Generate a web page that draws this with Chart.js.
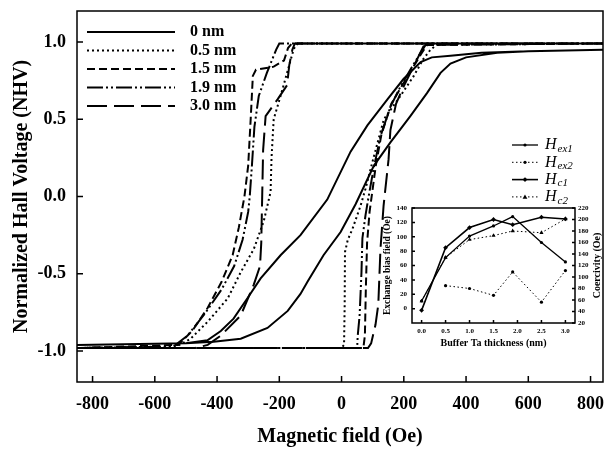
<!DOCTYPE html>
<html>
<head>
<meta charset="utf-8">
<script src="https://cdn.jsdelivr.net/npm/chart.js@4.4.0/dist/chart.umd.min.js"></script>
<style>
  html, body { margin: 0; padding: 0; background: #fff; }
  #wrap { position: relative; width: 605px; height: 449px; }
  #main { position: absolute; left: 0; top: 0; }
  #inset { position: absolute; left: 375px; top: 136px; }
</style>
</head>
<body>
<div id="wrap">
  <canvas id="main" width="605" height="449"></canvas>
  <canvas id="inset" width="230" height="218"></canvas>
</div>
<script>
// Hysteresis loops (field in Oe -> normalized Hall voltage)
const loopLabels = ['0 nm', '0.5 nm', '1.5 nm', '1.9 nm', '3.0 nm'];

const field0 = [840, 600, 450, 350, 290, 254, 199, 148, 83, 29, -46, -132, -196, -260, -303, -347, -388, -431, -500, -850,
                -850, -500, -411, -324, -238, -173, -132, -109, -58, -3, 45, 104, 157, 221, 275, 318, 350, 400, 500, 600, 840];
const nhv0 = [0.95, 0.94, 0.93, 0.91, 0.9, 0.87, 0.76, 0.63, 0.46, 0.29, -0.02, -0.25, -0.38, -0.53, -0.66, -0.79, -0.87, -0.93, -0.95, -0.96,
              -0.96, -0.95, -0.94, -0.92, -0.85, -0.74, -0.63, -0.55, -0.38, -0.23, -0.05, 0.2, 0.35, 0.52, 0.67, 0.8, 0.86, 0.9, 0.93, 0.94, 0.95];

const field05 = [840, 300, -140, -150, -157, -175, -196, -218, -225, -228, -250, -282, -324, -366, -430, -485, -530, -850,
                 -850, -200, 0, 8, 10, 11, 20, 35, 61, 77, 100, 136, 189, 232, 263, 286, 305, 330, 840];
const nhv05 = [0.99, 0.99, 0.99, 0.97, 0.93, 0.8, 0.65, 0.5, 0.25, 0.03, -0.16, -0.34, -0.49, -0.66, -0.81, -0.92, -0.97, -0.98,
               -0.98, -0.98, -0.98, -0.96, -0.7, -0.36, -0.28, -0.21, -0.06, 0.05, 0.23, 0.5, 0.65, 0.78, 0.89, 0.95, 0.98, 0.99, 0.99];

const field15 = [840, -160, -172, -185, -218, -275, -285, -292, -300, -312, -330, -350, -385, -430, -480, -525, -850,
                 -850, 70, 75, 78, 82, 90, 100, 110, 128, 160, 195, 225, 255, 275, 840];
const nhv15 = [0.99, 0.99, 0.96, 0.88, 0.84, 0.82, 0.78, 0.5, 0.2, 0.0, -0.2, -0.38, -0.55, -0.72, -0.87, -0.96, -0.98,
               -0.98, -0.98, -0.9, -0.6, -0.3, -0.1, 0.05, 0.2, 0.4, 0.6, 0.72, 0.82, 0.92, 0.98, 0.99];

const field19 = [840, -200, -210, -240, -266, -280, -288, -295, -300, -318, -345, -385, -440, -495, -540, -850,
                 -850, 50, 52, 58, 64, 67, 77, 87, 103, 125, 157, 189, 221, 254, 270, 840];
const nhv19 = [0.99, 0.99, 0.95, 0.8, 0.65, 0.45, 0.2, 0.0, -0.1, -0.28, -0.45, -0.6, -0.76, -0.9, -0.97, -0.98,
               -0.98, -0.98, -0.9, -0.77, -0.49, -0.27, -0.12, 0.0, 0.18, 0.39, 0.58, 0.71, 0.82, 0.93, 0.98, 0.99];

const field30 = [840, -150, -158, -168, -175, -205, -244, -252, -255, -258, -262, -282, -324, -388, -430, -470, -850,
                 -850, 85, 95, 109, 118, 125, 135, 151, 157, 175, 199, 231, 263, 280, 840];
const nhv30 = [0.99, 0.99, 0.95, 0.85, 0.72, 0.63, 0.52, 0.3, 0.0, -0.3, -0.45, -0.57, -0.77, -0.9, -0.96, -0.98, -0.98,
               -0.98, -0.98, -0.95, -0.83, -0.7, -0.34, -0.06, 0.24, 0.43, 0.6, 0.71, 0.84, 0.97, 0.99, 0.99];

const fieldTicks = [-800, -600, -400, -200, 0, 200, 400, 600, 800];
const nhvTicks = [-1.0, -0.5, 0.0, 0.5, 1.0];

// Inset: buffer Ta thickness dependence
const thickness = [0.0, 0.5, 1.0, 1.5, 1.9, 2.5, 3.0];
const hex1 = [10.6, 71, 101, 115, 128, 92, 65];
const hex2 = [null, 32, 28, 18.5, 51, 9, 53];
const hc1 = [42, 151, 186, 200, 191, 204, 201];
const hc2 = [58, 134, 165, 172, 180, 177, 201];
const insetLabels = ['Hex1', 'Hex2', 'Hc1', 'Hc2'];

const thicknessTicks = [0, 0.5, 1.0, 1.5, 2.0, 2.5, 3.0];
const biasTicks = [0, 20, 40, 60, 80, 100, 120, 140];
const coerTicks = [20, 40, 60, 80, 100, 120, 140, 160, 180, 200, 220];

const SERIF = '"Liberation Serif", "Times New Roman", serif';
const loopDashes = [[], [2, 3], [8, 4], [16, 3, 2, 3, 2, 3], [20, 7]];

function zip(xs, ys) {
  const out = [];
  xs.forEach((x, i) => { if (ys[i] !== null) out.push({ x: x, y: ys[i] }); });
  return out;
}

// no extra label padding: the chart area is set by layout padding + fixed axis sizes
function noPad(s) {
  s.paddingTop = 0; s.paddingBottom = 0; s.paddingLeft = 0; s.paddingRight = 0;
}

// frame + inward tick marks
const frameTicks = {
  id: 'frameTicks',
  afterDraw(chart, args, opts) {
    const { ctx, chartArea: a, scales } = chart;
    ctx.save();
    ctx.strokeStyle = '#000';
    ctx.lineWidth = opts.width;
    ctx.setLineDash([]);
    ctx.strokeRect(a.left, a.top, a.right - a.left, a.bottom - a.top);
    ctx.beginPath();
    scales.x.ticks.forEach(t => {
      const px = scales.x.getPixelForValue(t.value);
      ctx.moveTo(px, a.bottom);
      ctx.lineTo(px, a.bottom - opts.len);
    });
    Object.values(scales).forEach(s => {
      if (s.axis !== 'y') return;
      s.ticks.forEach(t => {
        const py = s.getPixelForValue(t.value);
        if (s.position === 'left') { ctx.moveTo(a.left, py); ctx.lineTo(a.left + opts.len, py); }
        else { ctx.moveTo(a.right, py); ctx.lineTo(a.right - opts.len, py); }
      });
    });
    ctx.stroke();
    ctx.restore();
  }
};

const mainLegend = {
  id: 'mainLegend',
  afterDraw(chart) {
    const ctx = chart.ctx;
    ctx.save();
    ctx.font = 'bold 16px ' + SERIF;
    ctx.fillStyle = '#000';
    ctx.strokeStyle = '#000';
    ctx.textBaseline = 'middle';
    chart.data.datasets.forEach((ds, i) => {
      const y = 32 + i * 18.5;
      ctx.setLineDash(ds.borderDash);
      ctx.lineWidth = 2;
      ctx.beginPath();
      ctx.moveTo(87, y);
      ctx.lineTo(175, y);
      ctx.stroke();
      ctx.setLineDash([]);
      ctx.fillText(ds.label, 190, y);
    });
    ctx.restore();
  }
};

const mainChart = new Chart(document.getElementById('main'), {
  type: 'scatter',
  data: {
    datasets: [
      [field0, nhv0], [field05, nhv05], [field15, nhv15], [field19, nhv19], [field30, nhv30]
    ].map((p, i) => ({
      label: loopLabels[i],
      data: zip(p[0], p[1]),
      showLine: true,
      borderColor: '#000',
      borderWidth: 2,
      borderDash: loopDashes[i],
      pointRadius: 0,
      tension: 0
    }))
  },
  options: {
    responsive: false,
    animation: false,
    layout: { padding: { top: 11, right: 2, left: 0, bottom: 0 } },
    plugins: {
      legend: { display: false },
      tooltip: { enabled: false },
      frameTicks: { width: 1.5, len: 6 }
    },
    scales: {
      x: {
        type: 'linear', min: -850, max: 840,
        afterBuildTicks: s => { s.ticks = fieldTicks.map(v => ({ value: v })); },
        grid: { display: false, drawTicks: false },
        border: { display: false },
        ticks: { color: '#000', padding: 12, autoSkip: false, maxRotation: 0,
                 font: { family: SERIF, size: 18, weight: 'bold' } },
        title: { display: true, text: 'Magnetic field (Oe)', color: '#000',
                 font: { family: SERIF, size: 20, weight: 'bold', lineHeight: 1 },
                 padding: { top: 0, bottom: 2 } },
        afterFit: s => { s.height = 67; noPad(s); }
      },
      y: {
        type: 'linear', min: -1.2, max: 1.2,
        afterBuildTicks: s => { s.ticks = nhvTicks.map(v => ({ value: v })); },
        grid: { display: false, drawTicks: false },
        border: { display: false },
        ticks: { color: '#000', padding: 11, callback: v => v.toFixed(1),
                 font: { family: SERIF, size: 18, weight: 'bold' } },
        title: { display: true, text: 'Normalized Hall Voltage (NHV)', color: '#000',
                 font: { family: SERIF, size: 20, weight: 'bold', lineHeight: 1 },
                 padding: { top: 12, bottom: 0 } },
        afterFit: s => { s.width = 77; noPad(s); }
      }
    }
  },
  plugins: [frameTicks, mainLegend]
});

// inset legend with subscripted labels, and the right-hand title
const insetDecor = {
  id: 'insetDecor',
  afterDraw(chart) {
    const ctx = chart.ctx;
    ctx.save();
    ctx.fillStyle = '#000';
    ctx.strokeStyle = '#000';
    chart.data.datasets.forEach((ds, i) => {
      const y = 9 + i * 17.3;
      ctx.setLineDash(ds.borderDash || []);
      ctx.lineWidth = ds.borderWidth;
      ctx.beginPath();
      ctx.moveTo(137, y);
      ctx.lineTo(163, y);
      ctx.stroke();
      ctx.setLineDash([]);
      drawMarker(ctx, ds.pointStyle, 150, y, ds.pointRadius);
      ctx.textBaseline = 'middle';
      ctx.font = 'italic 16px ' + SERIF;
      ctx.fillText(ds.label.charAt(0), 170, y);
      const w = ctx.measureText(ds.label.charAt(0)).width;
      ctx.font = 'italic 11px ' + SERIF;
      ctx.fillText(ds.label.slice(1), 170 + w + 1, y + 4);
    });
    const s = chart.scales.y2;
    const a = chart.chartArea;
    ctx.translate(s.right - 8, (a.top + a.bottom) / 2);
    ctx.rotate(-Math.PI / 2);
    ctx.textAlign = 'center';
    ctx.textBaseline = 'middle';
    ctx.font = 'bold 10px ' + SERIF;
    ctx.fillText('Coercivity (Oe)', 0, 0);
    ctx.restore();
  }
};

function drawMarker(ctx, style, x, y, r) {
  ctx.beginPath();
  if (style === 'triangle') {
    ctx.moveTo(x, y - r); ctx.lineTo(x + r, y + r * 0.8); ctx.lineTo(x - r, y + r * 0.8); ctx.closePath();
  } else if (style === 'rectRot') {
    ctx.moveTo(x, y - r); ctx.lineTo(x + r, y); ctx.lineTo(x, y + r); ctx.lineTo(x - r, y); ctx.closePath();
  } else {
    ctx.arc(x, y, r, 0, Math.PI * 2);
  }
  ctx.fill();
}

const tickFont = { family: SERIF, size: 7, weight: 'bold' };

new Chart(document.getElementById('inset'), {
  type: 'scatter',
  data: {
    datasets: [
      { label: insetLabels[0], data: zip(thickness, hex1), yAxisID: 'y', borderWidth: 1.3, pointStyle: 'circle', pointRadius: 1.6 },
      { label: insetLabels[1], data: zip(thickness, hex2), yAxisID: 'y', borderWidth: 1, borderDash: [1.5, 2.5], pointStyle: 'circle', pointRadius: 1.6 },
      { label: insetLabels[2], data: zip(thickness, hc1), yAxisID: 'y2', borderWidth: 1.6, pointStyle: 'rectRot', pointRadius: 2.4 },
      { label: insetLabels[3], data: zip(thickness, hc2), yAxisID: 'y2', borderWidth: 1, borderDash: [1.5, 2.5], pointStyle: 'triangle', pointRadius: 2.4 }
    ].map(d => Object.assign(d, {
      showLine: true, borderColor: '#000', backgroundColor: '#000',
      pointBorderWidth: 0, tension: 0
    }))
  },
  options: {
    responsive: false,
    animation: false,
    layout: { padding: { top: 72, left: 0, right: 0, bottom: 0 } },
    plugins: {
      legend: { display: false },
      tooltip: { enabled: false },
      frameTicks: { width: 1.5, len: 3 }
    },
    scales: {
      x: {
        type: 'linear', min: -0.2, max: 3.2,
        afterBuildTicks: s => { s.ticks = thicknessTicks.map(v => ({ value: v })); },
        grid: { display: false, drawTicks: false },
        border: { display: false },
        ticks: { color: '#000', padding: 4, autoSkip: false, maxRotation: 0,
                 callback: v => v.toFixed(1), font: tickFont },
        title: { display: true, text: 'Buffer Ta thickness (nm)', color: '#000',
                 font: { family: SERIF, size: 10, weight: 'bold', lineHeight: 1 },
                 padding: { top: 0, bottom: 6 } },
        afterFit: s => { s.height = 31; noPad(s); }
      },
      y: {
        type: 'linear', position: 'left', min: -20, max: 140,
        afterBuildTicks: s => { s.ticks = biasTicks.map(v => ({ value: v })); },
        grid: { display: false, drawTicks: false },
        border: { display: false },
        ticks: { color: '#000', padding: 5, font: tickFont },
        title: { display: true, text: 'Exchange bias field (Oe)', color: '#000',
                 font: { family: SERIF, size: 9.5, weight: 'bold', lineHeight: 1 },
                 padding: { top: 8, bottom: 0 } },
        afterFit: s => { s.width = 37; noPad(s); }
      },
      y2: {
        type: 'linear', position: 'right', min: 20, max: 220,
        afterBuildTicks: s => { s.ticks = coerTicks.map(v => ({ value: v })); },
        grid: { display: false, drawTicks: false },
        border: { display: false },
        ticks: { color: '#000', padding: 3, font: tickFont },
        afterFit: s => { s.width = 30; noPad(s); }
      }
    }
  },
  plugins: [frameTicks, insetDecor]
});
</script>
</body>
</html>
